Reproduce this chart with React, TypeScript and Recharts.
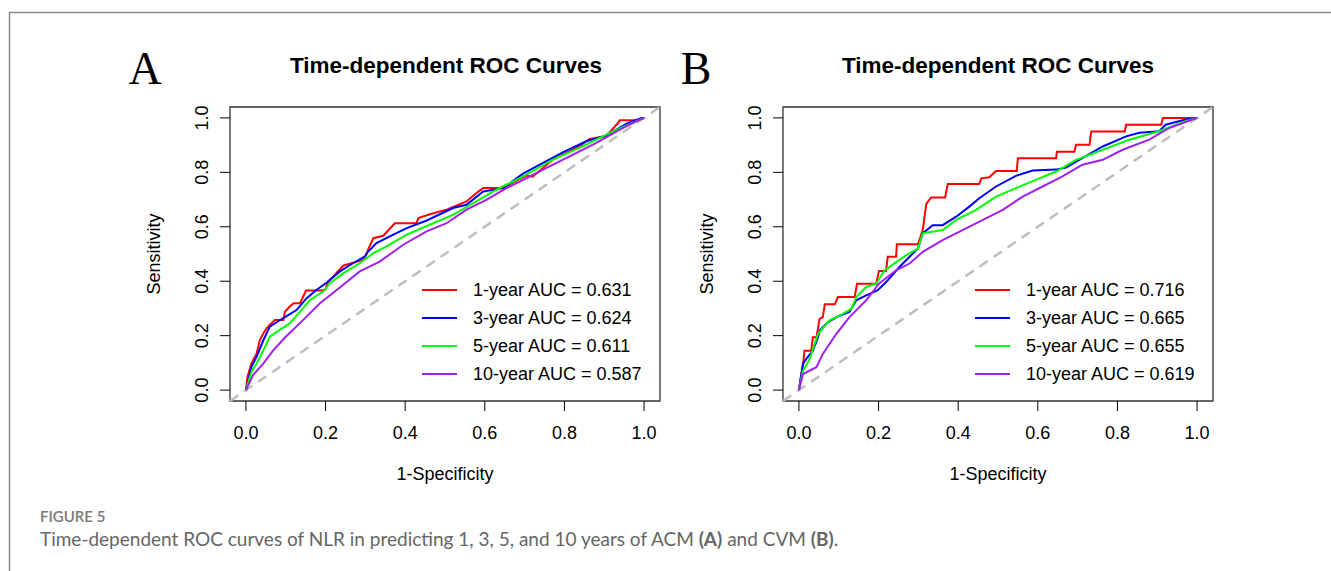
import { LineChart, Line, XAxis, YAxis, ReferenceLine, ReferenceArea, Legend } from 'recharts';

const years = ['1-year', '3-year', '5-year', '10-year'];
const colors = ['#ff0000', '#0000ff', '#00ff00', '#a020f0'];
const aucA = ['0.631', '0.624', '0.611', '0.587'];
const aucB = ['0.716', '0.665', '0.655', '0.619'];
const ticks = [0, 0.2, 0.4, 0.6, 0.8, 1];

// panel A (ACM): [1-specificity, sensitivity]
const rocA1 = [
  [0, 0], [0.004, 0.05], [0.014, 0.098], [0.018, 0.11], [0.027, 0.135], [0.035, 0.184], [0.044, 0.209],
  [0.052, 0.227], [0.06, 0.239], [0.073, 0.258], [0.094, 0.258], [0.098, 0.288], [0.11, 0.307],
  [0.12, 0.319], [0.136, 0.319], [0.151, 0.366], [0.19, 0.366], [0.2, 0.37], [0.205, 0.395],
  [0.223, 0.423], [0.244, 0.457], [0.265, 0.466], [0.295, 0.479], [0.303, 0.503], [0.32, 0.558],
  [0.345, 0.567], [0.374, 0.613], [0.428, 0.613], [0.433, 0.632], [0.458, 0.644], [0.504, 0.663],
  [0.554, 0.693], [0.579, 0.724], [0.596, 0.742], [0.646, 0.742], [0.671, 0.763], [0.705, 0.788],
  [0.72, 0.784], [0.771, 0.847], [0.838, 0.896], [0.863, 0.923], [0.905, 0.933], [0.935, 0.982],
  [0.939, 0.991], [0.985, 0.991], [1, 1],
];
const rocA3 = [
  [0, 0], [0.014, 0.086], [0.027, 0.123], [0.044, 0.184], [0.06, 0.233], [0.08, 0.252], [0.1, 0.27],
  [0.127, 0.294], [0.152, 0.337], [0.177, 0.368], [0.203, 0.395], [0.236, 0.436], [0.269, 0.466],
  [0.299, 0.491], [0.307, 0.509], [0.328, 0.54], [0.37, 0.571], [0.404, 0.595], [0.454, 0.623],
  [0.52, 0.669], [0.554, 0.681], [0.596, 0.73], [0.646, 0.742], [0.696, 0.795], [0.738, 0.828],
  [0.797, 0.874], [0.855, 0.914], [0.905, 0.935], [0.956, 0.979], [0.993, 1], [1, 1],
];
const rocA5 = [
  [0, 0], [0.014, 0.067], [0.027, 0.098], [0.044, 0.147], [0.06, 0.196], [0.085, 0.221], [0.11, 0.245],
  [0.136, 0.288], [0.161, 0.331], [0.194, 0.362], [0.211, 0.393], [0.244, 0.429], [0.286, 0.466],
  [0.32, 0.503], [0.353, 0.528], [0.404, 0.571], [0.47, 0.613], [0.52, 0.644], [0.571, 0.687],
  [0.629, 0.736], [0.688, 0.779], [0.771, 0.847], [0.847, 0.896], [0.914, 0.945], [0.972, 0.982], [1, 1],
];
const rocA10 = [
  [0, 0], [0.018, 0.055], [0.044, 0.098], [0.069, 0.147], [0.1, 0.196], [0.144, 0.258], [0.186, 0.319],
  [0.228, 0.368], [0.286, 0.436], [0.336, 0.472], [0.395, 0.534], [0.454, 0.583], [0.504, 0.613],
  [0.554, 0.663], [0.604, 0.699], [0.654, 0.742], [0.705, 0.779], [0.755, 0.816], [0.813, 0.859],
  [0.88, 0.908], [0.939, 0.957], [0.989, 0.994], [1, 1],
];

// panel B (CVM)
const rocB1 = [
  [0, 0], [0.006, 0.059], [0.01, 0.09], [0.014, 0.145], [0.031, 0.145], [0.035, 0.194], [0.044, 0.194],
  [0.052, 0.262], [0.06, 0.268], [0.065, 0.315], [0.09, 0.315], [0.098, 0.342], [0.14, 0.342],
  [0.146, 0.391], [0.194, 0.391], [0.201, 0.438], [0.219, 0.438], [0.223, 0.49], [0.244, 0.49],
  [0.246, 0.536], [0.299, 0.536], [0.311, 0.588], [0.315, 0.631], [0.32, 0.684], [0.332, 0.708],
  [0.367, 0.708], [0.374, 0.757], [0.453, 0.757], [0.458, 0.778], [0.478, 0.782], [0.495, 0.805],
  [0.547, 0.805], [0.55, 0.852], [0.646, 0.852], [0.648, 0.876], [0.692, 0.876], [0.696, 0.901],
  [0.73, 0.901], [0.734, 0.95], [0.818, 0.95], [0.822, 0.975], [0.91, 0.975], [0.914, 1], [1, 1],
];
const rocB3 = [
  [0, 0], [0.01, 0.096], [0.018, 0.114], [0.035, 0.145], [0.048, 0.194], [0.052, 0.219], [0.073, 0.25],
  [0.098, 0.271], [0.127, 0.287], [0.144, 0.33], [0.169, 0.348], [0.198, 0.367], [0.219, 0.397],
  [0.253, 0.453], [0.278, 0.49], [0.299, 0.52], [0.311, 0.576], [0.336, 0.606], [0.361, 0.606],
  [0.395, 0.637], [0.428, 0.674], [0.453, 0.705], [0.495, 0.748], [0.545, 0.787], [0.587, 0.807],
  [0.646, 0.81], [0.671, 0.818], [0.704, 0.846], [0.763, 0.895], [0.822, 0.932], [0.855, 0.945],
  [0.905, 0.951], [0.921, 0.975], [0.971, 0.994], [1, 1],
];
const rocB5 = [
  [0, 0], [0.01, 0.071], [0.027, 0.114], [0.048, 0.207], [0.077, 0.256], [0.11, 0.28], [0.132, 0.299],
  [0.144, 0.342], [0.169, 0.379], [0.194, 0.391], [0.215, 0.44], [0.245, 0.471], [0.27, 0.496],
  [0.299, 0.52], [0.311, 0.576], [0.361, 0.588], [0.395, 0.625], [0.445, 0.662], [0.495, 0.711],
  [0.545, 0.742], [0.596, 0.773], [0.646, 0.803], [0.696, 0.846], [0.763, 0.883], [0.83, 0.92],
  [0.905, 0.951], [0.971, 0.988], [1, 1],
];
const rocB10 = [
  [0, 0], [0.01, 0.059], [0.044, 0.084], [0.06, 0.133], [0.094, 0.207], [0.127, 0.268], [0.169, 0.33],
  [0.201, 0.391], [0.244, 0.44], [0.278, 0.465], [0.311, 0.508], [0.361, 0.551], [0.411, 0.588],
  [0.462, 0.625], [0.512, 0.662], [0.562, 0.711], [0.612, 0.748], [0.662, 0.785], [0.712, 0.828],
  [0.763, 0.846], [0.813, 0.883], [0.88, 0.92], [0.93, 0.963], [1, 1],
];

const sans = '"Liberation Sans", Arial, sans-serif';
const toRows = (pts: number[][]) => pts.map(([fpr, tpr]) => ({ fpr, tpr }));

const XTick = (props: any) => {
  const { x, y, payload } = props;
  return (
    <text x={x} y={y + 28} textAnchor="middle" fontSize={18} fontFamily={sans} fill="#000">
      {Number(payload.value).toFixed(1)}
    </text>
  );
};

const YTick = (props: any) => {
  const { x, y, payload } = props;
  const bx = x - 12;
  return (
    <text x={bx} y={y} transform={`rotate(-90 ${bx} ${y})`} textAnchor="middle" fontSize={18} fontFamily={sans} fill="#000">
      {Number(payload.value).toFixed(1)}
    </text>
  );
};

// keep the legend in the 1, 3, 5, 10 year order
const yearIndex = (v: string) => years.findIndex((y) => v.startsWith(y + ' '));

const LegendBox = (props: any) => {
  const items = [...(props.payload || [])].sort((a: any, b: any) => yearIndex(a.value) - yearIndex(b.value));
  return (
    <div style={{ fontFamily: sans, fontSize: 18, color: '#000' }}>
      {items.map((p: any) => (
        <div key={p.value} style={{ height: 28, display: 'flex', alignItems: 'center' }}>
          <svg width={51} height={28}>
            <line x1={0} x2={35} y1={14} y2={14} stroke={p.color} strokeWidth={2} />
          </svg>
          <span style={{ whiteSpace: 'nowrap' }}>{p.value}</span>
        </div>
      ))}
    </div>
  );
};

function RocPanel({ curves, auc, left }: any) {
  return (
    <div style={{ position: 'absolute', left, top: 90 }}>
      <LineChart width={540} height={370} margin={{ top: 17, right: 10, bottom: 9, left: 60 }}>
        <XAxis type="number" dataKey="fpr" domain={[-0.04, 1.04]} ticks={ticks} allowDataOverflow
          axisLine={false} tickSize={10} tickMargin={0} tickLine={{ stroke: '#000' }} tick={<XTick />} height={50} />
        <YAxis type="number" dataKey="tpr" domain={[-0.04, 1.04]} ticks={ticks} allowDataOverflow
          axisLine={false} tickSize={10} tickMargin={0} tickLine={{ stroke: '#000' }} tick={<YTick />} width={40} />
        <ReferenceLine segment={[{ x: -0.04, y: -0.04 }, { x: 1.04, y: 1.04 }]} stroke="#bebebe"
          strokeWidth={2.5} strokeDasharray="10 7" ifOverflow="visible" />
        {curves.map((c: number[][], i: number) => (
          <Line key={years[i]} data={toRows(c)} dataKey="tpr" name={`${years[i]} AUC = ${auc[i]}`}
            stroke={colors[i]} strokeWidth={2} dot={false} type="linear" isAnimationActive={false} />
        ))}
        <ReferenceArea x1={-0.04} x2={1.04} y1={-0.04} y2={1.04} fill="none" stroke="#333" strokeWidth={1.3} ifOverflow="visible" />
        <Legend layout="vertical" align="center" verticalAlign="middle" content={<LegendBox />}
          wrapperStyle={{ left: 292, top: 186, width: 240 }} />
      </LineChart>
    </div>
  );
}

export default function App() {
  return (
    <div style={{ position: 'absolute', left: 0, top: 0, width: 1331, height: 571, background: '#fff', overflow: 'hidden' }}>
      <svg width={1331} height={571} style={{ position: 'absolute', left: 0, top: 0 }}>
        <line x1={9} x2={1331} y1={12.5} y2={12.5} stroke="#8c8c8c" strokeWidth={1.5} />
        <line x1={9.5} x2={9.5} y1={12} y2={571} stroke="#8c8c8c" strokeWidth={1.5} />
        <text x={145} y={84} textAnchor="middle" fontSize={46} fontFamily='"Liberation Serif", "Times New Roman", serif'>A</text>
        <text x={696} y={84} textAnchor="middle" fontSize={46} fontFamily='"Liberation Serif", "Times New Roman", serif'>B</text>
        <text x={446} y={73} textAnchor="middle" fontSize={22.5} fontWeight="bold" fontFamily={sans}>Time-dependent ROC Curves</text>
        <text x={998} y={73} textAnchor="middle" fontSize={22.5} fontWeight="bold" fontFamily={sans}>Time-dependent ROC Curves</text>
        <text x={159.5} y={254} transform="rotate(-90 159.5 254)" textAnchor="middle" fontSize={18} fontFamily={sans}>Sensitivity</text>
        <text x={712.5} y={254} transform="rotate(-90 712.5 254)" textAnchor="middle" fontSize={18} fontFamily={sans}>Sensitivity</text>
        <text x={445} y={480} textAnchor="middle" fontSize={18} fontFamily={sans}>1-Specificity</text>
        <text x={998} y={480} textAnchor="middle" fontSize={18} fontFamily={sans}>1-Specificity</text>
        <text x={40} y={522} fontSize={15} fontWeight={600} fill="#7a7a7a" fontFamily="Lato, sans-serif">FIGURE 5</text>
        <text x={40} y={546} fontSize={19} fill="#666" fontFamily="Lato, sans-serif">
          Time-dependent ROC curves of NLR in predicting 1, 3, 5, and 10 years of ACM <tspan fontWeight="bold">(A)</tspan> and CVM <tspan fontWeight="bold">(B)</tspan>.
        </text>
      </svg>
      <RocPanel curves={[rocA1, rocA3, rocA5, rocA10]} auc={aucA} left={130} />
      <RocPanel curves={[rocB1, rocB3, rocB5, rocB10]} auc={aucB} left={683} />
    </div>
  );
}
